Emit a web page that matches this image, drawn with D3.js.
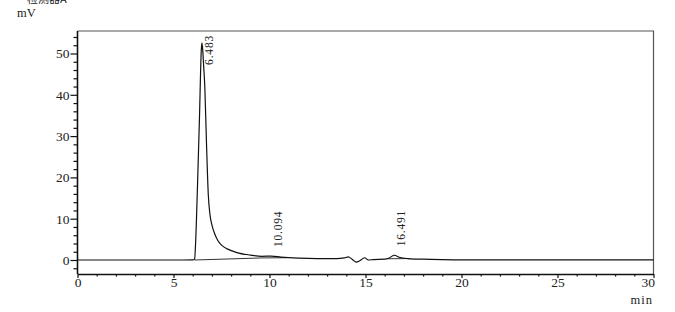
<!DOCTYPE html>
<html>
<head>
<meta charset="utf-8">
<script src="https://cdn.jsdelivr.net/npm/d3@7"></script>
<style>
    body { margin: 0; background: #fff; }
    svg text { font-family: "Liberation Serif", "DejaVu Serif", serif; fill: #222; }
</style>
</head>
<body>
<div class="chart-container"></div>
<script>
// chromatogram trace (min, mV)
const times = [0, 5, 6.0, 6.1, 6.15, 6.25, 6.35, 6.45, 6.48, 6.52, 6.57, 6.63, 6.72, 6.81, 6.9, 7.0, 7.15, 7.3, 7.5, 7.8, 8.3, 9.0, 9.6, 10.1, 10.6, 11.5, 12.5, 13.5, 13.9, 14.1, 14.3, 14.5, 14.7, 14.95, 15.15, 15.4, 16.0, 16.2, 16.49, 16.8, 17.2, 18, 19, 20, 25, 30];
const signal = [0, 0, 0.05, 0.2, 4, 18, 34, 51, 52.6, 51, 47, 42, 28, 16, 11, 8.5, 6.3, 4.8, 3.6, 2.7, 1.8, 1.2, 0.9, 0.95, 0.7, 0.45, 0.35, 0.35, 0.5, 0.75, 0.2, -0.5, -0.2, 0.55, 0.0, 0.1, 0.2, 0.4, 1.15, 0.6, 0.35, 0.2, 0.1, 0.05, 0.05, 0.05];

// integration baselines drawn under the peaks
const baseStart = [[6.1, 0.0], [9.6, 0.5], [16.2, 0.3]];
const baseEnd = [[9.6, 0.5], [10.9, 0.55], [17.3, 0.35]];

// peak labels
const peakTimes = [6.483, 10.094, 16.491];
const peakHeights = [52.6, 0.95, 1.15];
const peakLabels = ["6.483", "10.094", "16.491"];

const xTicks = [0, 5, 10, 15, 20, 25, 30];
const yTicks = [0, 10, 20, 30, 40, 50];

const width = 675;
const height = 312;
const plotLeft = 77.5, plotRight = 653.5, plotTop = 31, plotBottom = 274;

const x = d3.scaleLinear().domain([0, 30]).range([plotLeft, plotRight]);
const y = d3.scaleLinear().domain([0, 50]).range([260, 53.5]);

let svg = d3.select(".chart-container").append("svg")
    .attr("width", width)
    .attr("height", height);

// frame (top + right)
svg.append("path")
    .attr("d", `M${plotLeft},${plotTop}H${plotRight}V${plotBottom}`)
    .attr("fill", "none")
    .attr("stroke", "#555")
    .attr("stroke-width", 1.2);

// x axis
const xAxis = d3.axisBottom(x)
    .tickValues(xTicks)
    .tickSize(4)
    .tickSizeOuter(0);
const gx = svg.append("g")
    .attr("transform", `translate(0,${plotBottom})`)
    .call(xAxis);
gx.selectAll(".tick text")
    .attr("dy", "0.45em")
    .style("font-size", "13.5px")
    .attr("text-anchor", d => d === 30 ? "end" : "middle")
    .attr("dx", d => d === 30 ? "1" : "0");
svg.append("g")
    .attr("transform", `translate(0,${plotBottom})`)
    .call(d3.axisBottom(x).tickValues(d3.range(0, 31, 1).filter(d => d % 5 !== 0)).tickSize(2.5).tickFormat(""))
    .call(g => g.select(".domain").remove());

// y axis
const yAxis = d3.axisLeft(y)
    .tickValues(yTicks)
    .tickSize(7)
    .tickSizeOuter(0);
const gy = svg.append("g")
    .attr("transform", `translate(${plotLeft},0)`)
    .call(yAxis);
gy.select(".domain").attr("d", `M0,${plotTop}V${plotBottom}`);
gy.selectAll(".tick text")
    .attr("x", -8)
    .style("font-size", "13.5px");
svg.append("g")
    .attr("transform", `translate(${plotLeft},0)`)
    .call(d3.axisLeft(y).tickValues(d3.range(-2, 55, 2).filter(d => d % 10 !== 0)).tickSize(4).tickFormat(""))
    .call(g => g.select(".domain").remove());

svg.selectAll(".domain, .tick line").attr("stroke", "#111").attr("stroke-width", 1.2);
svg.selectAll(".domain").attr("stroke-width", 1.6);

// axis titles
svg.append("text")
    .attr("x", 27).attr("y", 3)
    .style("font-size", "11px")
    .style("font-family", "'Noto Sans CJK SC'")
    .text("检测器A");
svg.append("text")
    .attr("x", 17).attr("y", 17)
    .style("font-size", "12.5px")
    .text("mV");
svg.append("text")
    .attr("x", 653).attr("y", 304)
    .attr("text-anchor", "end")
    .style("font-size", "12.5px")
    .attr("letter-spacing", "1px")
    .text("min");

// baselines
svg.append("g")
    .selectAll("line")
    .data(baseStart)
    .enter()
    .append("line")
    .attr("x1", d => x(d[0]))
    .attr("y1", d => y(d[1]))
    .attr("x2", (d, i) => x(baseEnd[i][0]))
    .attr("y2", (d, i) => y(baseEnd[i][1]))
    .attr("stroke", "#333")
    .attr("stroke-width", 1);

// trace
const line = d3.line()
    .x(d => x(d[0]))
    .y(d => y(d[1]))
    .curve(d3.curveMonotoneX);
svg.append("path")
    .datum(times.map((t, i) => [t, signal[i]]))
    .attr("d", line)
    .attr("fill", "none")
    .attr("stroke", "#111")
    .attr("stroke-width", 1.2);

// peak labels, rotated, clamped inside the frame
svg.append("g")
    .selectAll("text")
    .data(peakTimes)
    .enter()
    .append("text")
    .style("font-size", "11.5px")
    .attr("letter-spacing", "0.8px")
    .text((d, i) => peakLabels[i])
    .each(function (d, i) {
        const len = this.getComputedTextLength();
        let y0 = y(peakHeights[i]) - 9;
        if (y0 - len < plotTop + 4) y0 = plotTop + 4 + len;
        d3.select(this).attr("transform", `translate(${x(d) + 11},${y0}) rotate(-90)`);
    });
</script>
</body>
</html>
